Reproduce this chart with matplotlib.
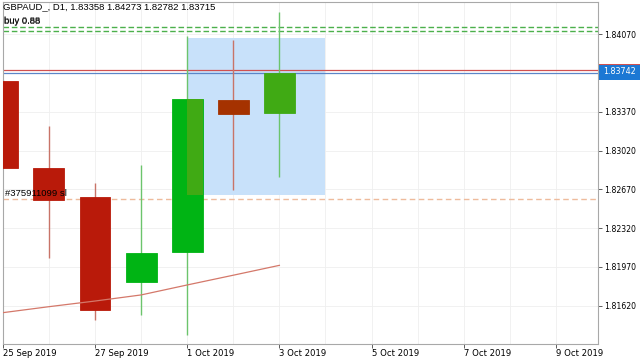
import matplotlib
matplotlib.use("Agg")
import matplotlib.pyplot as plt
from matplotlib.patches import Rectangle

# 日线数据 (GBPAUD_, D1)
bar_idx = [0, 1, 2, 3, 4, 5, 6]
opens = [1.83650, 1.82859, 1.82598, 1.81837, 1.82102, 1.83473, 1.83358]
highs = [1.83660, 1.83241, 1.82730, 1.82889, 1.84056, 1.84017, 1.84273]
lows = [1.82860, 1.82048, 1.81491, 1.81536, 1.81356, 1.82666, 1.82782]
closes = [1.82865, 1.82576, 1.81579, 1.82098, 1.83482, 1.83352, 1.83715]
ma_values = [1.81557, 1.81611, 1.81662, 1.81717, 1.81807, 1.81895, 1.81984]

xtick_pos = [0, 2, 4, 6, 8, 10, 12]
xtick_labels = ['25 Sep 2019', '27 Sep 2019', '1 Oct 2019', '3 Oct 2019',
                '5 Oct 2019', '7 Oct 2019', '9 Oct 2019']
yticks = [1.81620, 1.81970, 1.82320, 1.82670, 1.83020, 1.83370, 1.83720, 1.84070]

buy_levels = [1.84137, 1.84101]
sl_level = 1.82583
ask_price = 1.83742
bid_price = 1.83715
box_x = [4, 7]
box_y = [1.82621, 1.84038]

title = 'GBPAUD_, D1, 1.83358 1.84273 1.82782 1.83715'

fig = plt.figure(figsize=(6.4, 3.6), dpi=100)
ax = fig.add_axes([2.5 / 640, 16 / 360, 595.5 / 640, 342 / 360])
ax.set_xlim(-0.005, 12.91)
ax.set_ylim(1.812745, 1.843596)

# 网格
for x in range(0, 13):
    ax.axvline(x, color='#efefef', lw=0.6, zorder=0)
for y in yticks:
    ax.axhline(y, color='#efefef', lw=0.6, zorder=0)

# 选择框
ax.add_patch(Rectangle((box_x[0], box_y[0]), box_x[1] - box_x[0], box_y[1] - box_y[0],
                       facecolor='#c8e1fa', edgecolor='none', zorder=1))

# 水平线
for lv in buy_levels:
    ax.axhline(lv, color='#4cb04c', lw=1.0, ls=(0, (4, 2)), zorder=2)
ax.axhline(sl_level, color='#eebb9c', lw=1.0, ls=(0, (4, 2.5)), zorder=2)
ax.axhline(ask_price, color='#d05050', lw=0.9, zorder=2)
ax.axhline(bid_price, color='#5b86c8', lw=0.9, zorder=2)

# K线
w = 0.67
for i, o, h, l, c in zip(bar_idx, opens, highs, lows, closes):
    up = c >= o
    inside = i > box_x[0] and i < box_x[1]
    if up:
        wick_c = '#6cc46c'
        body_c = '#40aa14' if inside else '#00b414'
    else:
        wick_c = '#c87468'
        body_c = '#a53200' if inside else '#b91a0a'
    ax.vlines(i, l, h, color=wick_c, lw=1.0, zorder=2.5)
    lo, hi = min(o, c), max(o, c)
    ax.add_patch(Rectangle((i - w / 2, lo), w, hi - lo, facecolor=body_c,
                           edgecolor=body_c, lw=0.6, zorder=3))
    # 与选择框重叠的部分颜色变暗
    if not inside and i + w / 2 > box_x[0] and i - w / 2 < box_x[1]:
        x0 = max(i - w / 2, box_x[0])
        x1 = min(i + w / 2, box_x[1])
        y0 = max(lo, box_y[0])
        y1 = min(hi, box_y[1])
        dark = '#40aa14' if up else '#a53200'
        ax.add_patch(Rectangle((x0, y0), x1 - x0, y1 - y0, facecolor=dark,
                               edgecolor='none', zorder=3.1))

# 均线
ax.plot(bar_idx, ma_values, color='#d4786a', lw=0.9, zorder=4)

# 文本 (两笔订单标签在原图中叠在一起)
ax.text(0.02, buy_levels[0] + 0.00003, 'buy 0.88', fontsize=6.8, family='Liberation Sans',
        color='black', va='bottom', ha='left', zorder=5)
ax.text(0.02, buy_levels[0] + 0.00012, 'buy 0.88', fontsize=6.8, family='Liberation Sans',
        color='black', va='bottom', ha='left', zorder=5, alpha=0.7)
ax.text(0.05, sl_level + 0.00005, '#375911099 sl', fontsize=6.8, family='Liberation Sans',
        color='black', va='bottom', ha='left', zorder=5)
fig.text(3 / 640, 1 - 2 / 360, title, fontsize=6.8, family='Liberation Sans',
         color='black', va='top', ha='left')

# 坐标轴
ax.yaxis.tick_right()
ax.set_yticks(yticks)
ax.set_yticklabels(['' if abs(v - ask_price) < 0.0004 else f'{v:.5f}' for v in yticks])
ax.set_xticks(xtick_pos)
ax.set_xticklabels(xtick_labels, ha='left')
ax.tick_params(axis='y', labelsize=5.6, colors='#444444', length=3, width=0.6,
               pad=1.5, labelcolor='black')
ax.tick_params(axis='x', labelsize=6.1, colors='#444444', length=3, width=0.6,
               pad=0.5, labelcolor='black')
for sp in ax.spines.values():
    sp.set_color('#a8a8a8')
    sp.set_linewidth(0.8)

# 当前价格标签
fig.patches.append(Rectangle((599 / 640, 1 - 79.5 / 360), 41 / 640, 15 / 360,
                             transform=fig.transFigure, facecolor='#1c78d4',
                             edgecolor='none', zorder=10))
fig.patches.append(Rectangle((599 / 640, 1 - 65 / 360), 41 / 640, 1 / 360,
                             transform=fig.transFigure, facecolor='#d05050',
                             edgecolor='none', zorder=11))
fig.text(603 / 640, 1 - 72 / 360, f'{ask_price:.5f}', fontsize=5.8, color='white',
         va='center', ha='left', zorder=12)

fig.savefig('out.png', dpi=100)
